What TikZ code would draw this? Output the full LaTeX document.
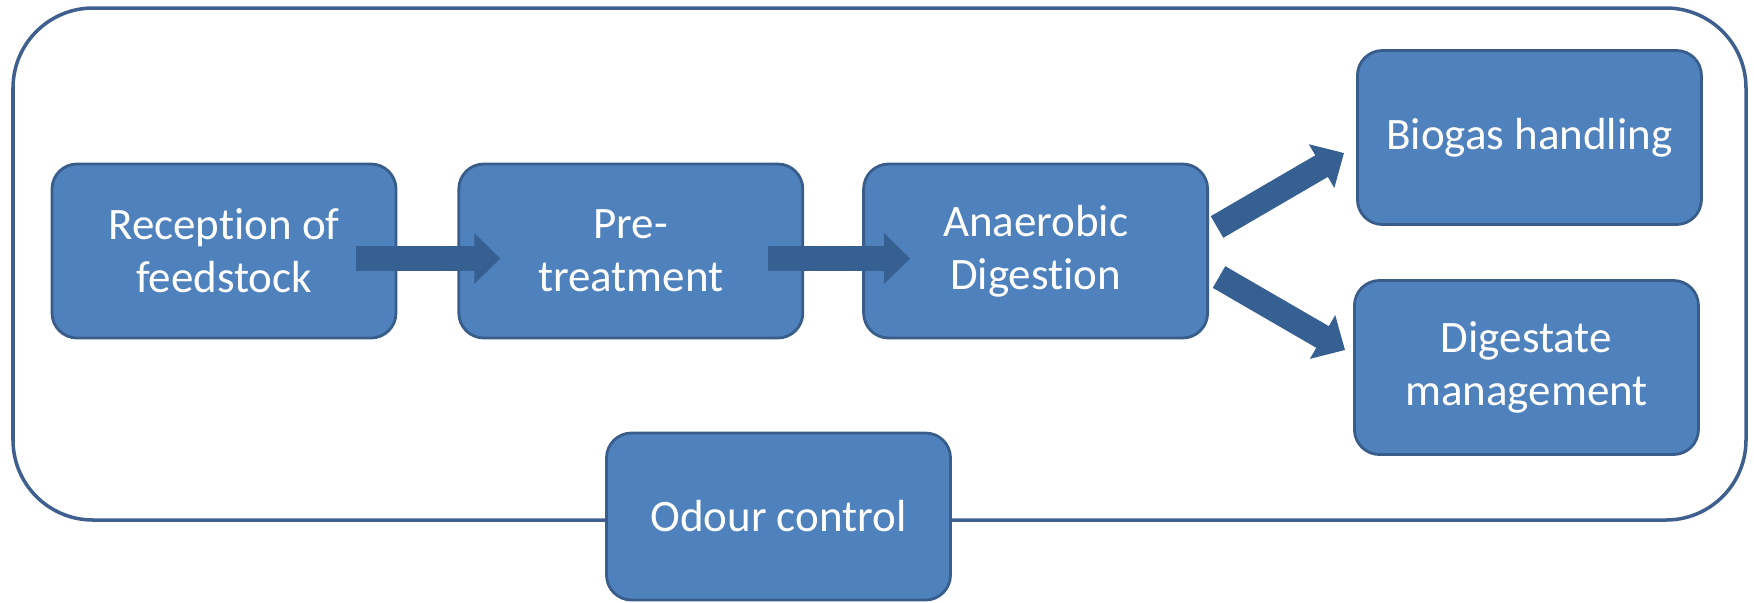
\documentclass[tikz,border=0pt]{standalone}
\usepackage{fontspec}
\setmainfont[Ligatures=NoCommon]{Carlito}
\usepackage{tikz}
\usetikzlibrary{arrows.meta, positioning}

\definecolor{boxblue}{HTML}{4F81BD}
\definecolor{boxline}{HTML}{385D8A}
\definecolor{arrowblue}{HTML}{376092}
\definecolor{frameline}{HTML}{3F5F8F}

\begin{document}
\begin{tikzpicture}[
        stage/.style={
            rectangle, draw=boxline, line width=0.8pt, fill=boxblue, rounded corners=0.25cm,
            minimum width=3.44cm, minimum height=1.74cm, align=center, text=white,
            font=\fontsize{12.8}{15}\selectfont, inner sep=0pt
        },
        fatarrow/.style={-{Triangle[width=4.9mm, length=2.6mm]}, line width=2.5mm, draw=arrowblue}
    ]
        \useasboundingbox (0,0) rectangle (17.54,-6.02);

        % Outer frame
        \draw[frameline, line width=1pt, rounded corners=0.8cm] (0.13,-0.08) rectangle (17.46,-5.20);

        % Main line
        \node[stage] (rec) at (2.24,-2.51) {Reception of\\feedstock};
        \node[stage, right=0.6cm of rec] (pre) {Pre-\\treatment};
        \node[stage, right=0.58cm of pre] (ad) {Anaerobic\\Digestion};

        % Outputs
        \node[stage, right=1.47cm of ad, yshift=1.135cm] (bio) {Biogas handling};
        \node[stage, right=1.44cm of ad, yshift=-1.165cm] (dig) {Digestate\\management};

        % Bottom
        \node[stage, minimum height=1.67cm] (odour) at (7.785,-5.165) {Odour control};

        % Flow arrows
        \draw[fatarrow] ([xshift=-0.41cm, yshift=-0.075cm]rec.east) -- ([xshift=0.43cm, yshift=-0.075cm]pre.west);
        \draw[fatarrow] ([xshift=-0.36cm, yshift=-0.075cm]pre.east) -- ([xshift=0.48cm, yshift=-0.075cm]ad.west);
        \draw[fatarrow] ([xshift=0.08cm, yshift=0.24cm]ad.east) -- ([xshift=-0.12cm, yshift=-0.155cm]bio.west);
        \draw[fatarrow] ([xshift=0.10cm, yshift=-0.26cm]ad.east) -- ([xshift=-0.08cm, yshift=0.175cm]dig.west);

    \end{tikzpicture}
\end{document}
